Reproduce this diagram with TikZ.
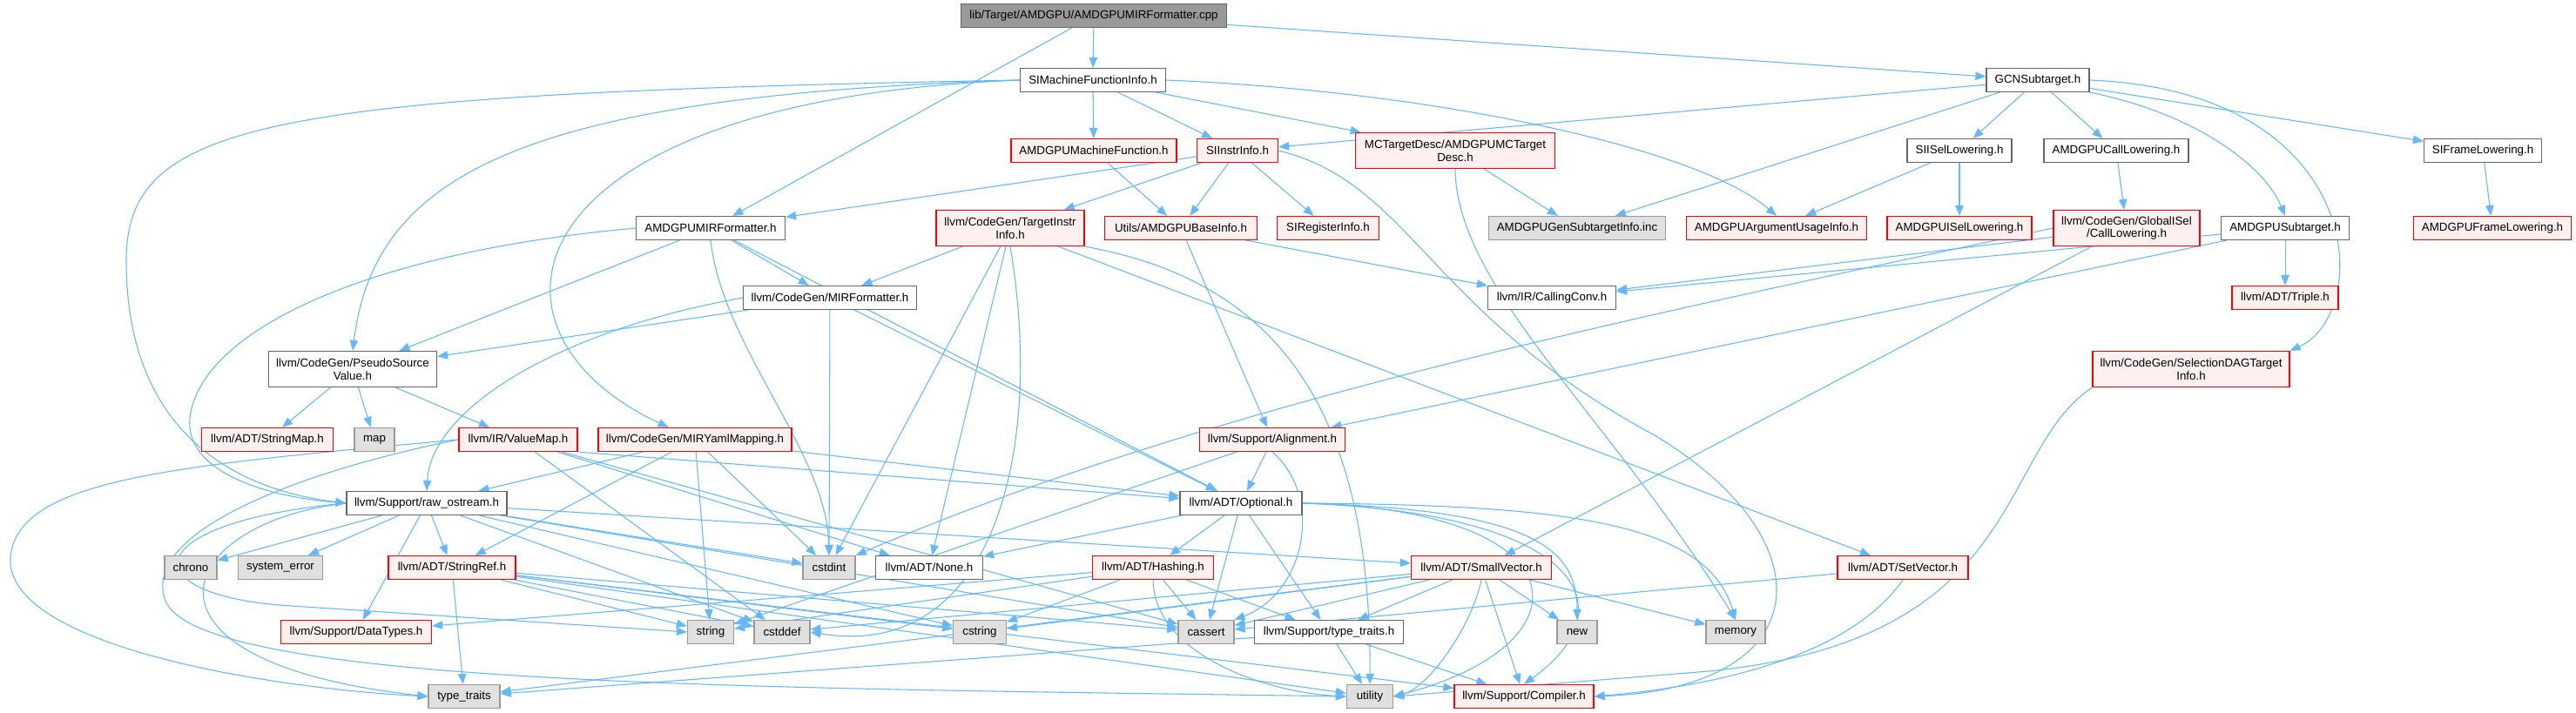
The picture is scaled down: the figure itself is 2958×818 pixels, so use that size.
\documentclass[tikz,border=0pt]{standalone}
\usepackage{fontspec}
\setmainfont{Liberation Sans}
\usetikzlibrary{arrows.meta}
\pgfdeclarelayer{bg}
\pgfdeclarelayer{edges}
\pgfsetlayers{bg,edges,main}
\definecolor{edgeblue}{HTML}{63B8FF}
\definecolor{wborder}{HTML}{666666}
\definecolor{pinkfill}{HTML}{FFF0F0}
\definecolor{gborder}{HTML}{999999}
\definecolor{gfill}{HTML}{E0E0E0}
\definecolor{cppfill}{HTML}{999999}
\tikzset{
  base/.style={draw, rectangle, inner sep=0pt, minimum height=20.25pt, align=center,
    font=\fontsize{10}{11}\selectfont, line width=0.9pt, text=black},
  wn/.style={base, draw=wborder, fill=white},
  rn/.style={base, draw=red, fill=pinkfill},
  gn/.style={base, draw=gborder, fill=gfill},
  cn/.style={base, draw=wborder, fill=cppfill},
  tall/.style={minimum height=30.75pt},
  wd/.style={minimum width=#1*0.75pt},
  e/.style={draw=edgeblue, line width=0.8pt, -{Triangle[length=9pt,width=7pt]}}
}
\begin{document}
\begin{tikzpicture}[x=0.75pt,y=-0.75pt]
\begin{pgfonlayer}{bg}
\fill[white] (0,0) rectangle (2958,818);
\end{pgfonlayer}
\useasboundingbox (0,0) rectangle (2958,818);
% ---------- nodes
\node[cn,wd=305] (cpp) at (1256,18) {lib/Target/AMDGPU/AMDGPUMIRFormatter.cpp};
\node[wn,wd=167] (simfi) at (1255,92) {SIMachineFunctionInfo.h};
\node[wn,wd=118] (gcn) at (2340,92) {GCNSubtarget.h};
\node[rn,wd=190] (amf) at (1256,173) {AMDGPUMachineFunction.h};
\node[rn,wd=93] (siii) at (1421,173) {SIInstrInfo.h};
\node[rn,wd=229,tall] (mctd) at (1671,173) {MCTargetDesc/AMDGPUMCTarget\\Desc.h};
\node[wn,wd=120] (sisel) at (2250,173) {SIISelLowering.h};
\node[wn,wd=166] (acl) at (2430,173) {AMDGPUCallLowering.h};
\node[wn,wd=135] (sifl) at (2851,173) {SIFrameLowering.h};
\node[wn,wd=171] (amirf) at (816,262) {AMDGPUMIRFormatter.h};
\node[rn,wd=170,tall] (tii) at (1160,262) {llvm/CodeGen/TargetInstr\\Info.h};
\node[rn,wd=175] (abi) at (1356,262) {Utils/AMDGPUBaseInfo.h};
\node[rn,wd=117] (sri) at (1525,262) {SIRegisterInfo.h};
\node[gn,wd=203] (gsi) at (1811,262) {AMDGPUGenSubtargetInfo.inc};
\node[rn,wd=207] (aui) at (2040,262) {AMDGPUArgumentUsageInfo.h};
\node[rn,wd=166] (aisl) at (2250,262) {AMDGPUISelLowering.h};
\node[rn,wd=168,tall] (cl) at (2442,262) {llvm/CodeGen/GlobalISel\\/CallLowering.h};
\node[wn,wd=147] (ast) at (2624,262) {AMDGPUSubtarget.h};
\node[rn,wd=181] (afl) at (2862,262) {AMDGPUFrameLowering.h};
\node[wn,wd=199] (mirf) at (953,342) {llvm/CodeGen/MIRFormatter.h};
\node[wn,wd=147] (cc) at (1782,342) {llvm/IR/CallingConv.h};
\node[rn,wd=122] (triple) at (2624,342) {llvm/ADT/Triple.h};
\node[wn,wd=193,tall] (psv) at (405,424) {llvm/CodeGen/PseudoSource\\Value.h};
\node[rn,wd=226,tall] (sdti) at (2516,424) {llvm/CodeGen/SelectionDAGTarget\\Info.h};
\node[rn,wd=151] (smap) at (307,505) {llvm/ADT/StringMap.h};
\node[gn,wd=46] (map) at (430,505) {map};
\node[rn,wd=136] (vmap) at (595,505) {llvm/IR/ValueMap.h};
\node[rn,wd=222] (mym) at (798,505) {llvm/CodeGen/MIRYamlMapping.h};
\node[rn,wd=167] (align) at (1461,505) {llvm/Support/Alignment.h};
\node[wn,wd=184] (ros) at (490,578) {llvm/Support/raw\_ostream.h};
\node[wn,wd=140] (opt) at (1425,578) {llvm/ADT/Optional.h};
\node[gn,wd=60] (chrono) at (219,652) {chrono};
\node[gn,wd=97] (syserr) at (322,652) {system\_error};
\node[rn,wd=146] (sref) at (519,652) {llvm/ADT/StringRef.h};
\node[gn,wd=60] (cstdint) at (952,652) {cstdint};
\node[wn,wd=123] (none) at (1067,652) {llvm/ADT/None.h};
\node[rn,wd=139] (hash) at (1324,652) {llvm/ADT/Hashing.h};
\node[rn,wd=161] (svec) at (1701,652) {llvm/ADT/SmallVector.h};
\node[rn,wd=150] (setv) at (2185,652) {llvm/ADT/SetVector.h};
\node[rn,wd=173] (dtypes) at (409,726) {llvm/Support/DataTypes.h};
\node[gn,wd=53] (string) at (816,726) {string};
\node[gn,wd=64] (cstddef) at (898,726) {cstddef};
\node[gn,wd=61] (cstring) at (1125,726) {cstring};
\node[gn,wd=64] (cassert) at (1385,726) {cassert};
\node[wn,wd=171] (tth) at (1526,726) {llvm/Support/type\_traits.h};
\node[gn,wd=46] (new) at (1811,726) {new};
\node[gn,wd=68] (memory) at (1993,726) {memory};
\node[gn,wd=82] (tt) at (533,800) {type\_traits};
\node[gn,wd=53] (utility) at (1573,800) {utility};
\node[rn,wd=160] (compiler) at (1750,800) {llvm/Support/Compiler.h};
\begin{pgfonlayer}{edges}
% ---------- straight connectors
\foreach \a/\b in {cpp/simfi, cpp/amirf, cpp/gcn,
  simfi/amf, simfi/siii, simfi/mctd,
  gcn/siii, gcn/gsi, gcn/sisel, gcn/acl, gcn/sifl,
  amf/abi, siii/amirf, siii/tii, siii/abi, siii/sri, mctd/gsi,
  sisel/aui, sisel/aisl, acl/cl, sifl/afl,
  ast/cc, ast/triple, ast/align, cl/cc, cl/svec,
  abi/cc, abi/align,
  amirf/psv, amirf/mirf, amirf/opt,
  mirf/psv, mirf/cstdint, mirf/opt,
  tii/mirf, tii/cstdint, tii/none, tii/setv,
  psv/smap, psv/map, psv/vmap,
  vmap/none, vmap/cassert, vmap/cstddef,
  mym/ros, mym/sref, mym/string, mym/cstdint, mym/opt,
  align/opt, align/string,
  ros/chrono, ros/syserr, ros/sref, ros/dtypes, ros/cstdint, ros/cstddef, ros/cstring, ros/cassert, ros/svec,
  opt/none, opt/hash, opt/cassert, opt/tth,
  sref/tt, sref/string, sref/cstddef, sref/cstring, sref/cassert, sref/utility, sref/compiler,
  hash/dtypes, hash/string, hash/cstring, hash/cassert, hash/tth,
  svec/cstddef, svec/cstring, svec/cassert, svec/tth, svec/new, svec/memory, svec/compiler, svec/tt,
  tth/utility, tth/compiler, tth/tt,
  setv/cassert}
  \draw[e] (\a) -- (\b);
\draw[e] (vmap.south east) -- (opt);
% ---------- curved connectors
\draw[e] (cl.west) .. controls (1900,360) and (1400,460) .. (cstdint.north east);
\draw[e] (simfi.west) .. controls (300,108) and (145,140) .. (145,300) .. controls (145,480) and (250,560) .. (ros.west);
\draw[e] (simfi.west) .. controls (600,110) and (430,200) .. (psv.north);
\draw[e] (simfi.west) .. controls (580,115) and (530,380) .. (mym);
\draw[e] (simfi.east) .. controls (1650,105) and (1950,170) .. (aui.north);
\draw[e] (gcn.south east) .. controls (2520,130) and (2600,190) .. (ast.north);
\draw[e] (gcn.east) .. controls (2720,105) and (2725,360) .. (sdti.north east);
\draw[e] (mctd.south) .. controls (1672,330) and (1850,480) .. (memory.north);
\draw[e] (siii.east) .. controls (1620,210) and (1640,360) .. (1900,500) .. controls (2100,620) and (2090,790) .. (compiler.east);
\draw[e] (amirf.west) .. controls (420,290) and (230,380) .. (218,480) .. controls (212,540) and (300,570) .. (ros.west);
\draw[e] (amirf.south) .. controls (830,400) and (950,520) .. (cstdint.north);
\draw[e] (mirf.west) .. controls (640,380) and (495,470) .. (ros.north);
\draw[e] (tii.south) .. controls (1200,520) and (1140,760) .. (cstddef.east);
\draw[e] (tii.south east) .. controls (1450,320) and (1575,450) .. (utility.north);
\draw[e] (vmap.west) .. controls (200,535) and (20,550) .. (12,640) .. controls (5,740) and (300,790) .. (tt.west);
\draw[e] (vmap.west) .. controls (350,540) and (160,610) .. (190,690) .. controls (230,790) and (900,790) .. (utility.west);
\draw[e] (ros.west) .. controls (200,600) and (130,760) .. (tt.west);
\draw[e] (ros.west) .. controls (160,600) and (150,680) .. (320,695) -- (string.west);
\draw[e] (sdti.south west) .. controls (2290,520) and (2330,740) .. (1950,772) -- (utility.east);
\draw[e] (setv.south) .. controls (2120,760) and (1950,790) .. (compiler.east);
\draw[e] (opt.east) .. controls (1800,580) and (1960,600) .. (memory.north);
\draw[e] (opt.east) .. controls (1760,585) and (1811,630) .. (new.north);
\draw[e] (opt.east) .. controls (1820,590) and (1870,700) .. (compiler.north);
\draw[e] (opt.east) .. controls (1820,585) and (1830,740) .. (utility.east);
\draw[e] (align.south) .. controls (1520,570) and (1500,680) .. (cassert.north east);
\draw[e] (hash.south) .. controls (1325,750) and (1450,795) .. (utility.west);
\draw[e] (svec.south) .. controls (1690,720) and (1640,790) .. (utility.east);
\end{pgfonlayer}
\end{tikzpicture}
\end{document}
